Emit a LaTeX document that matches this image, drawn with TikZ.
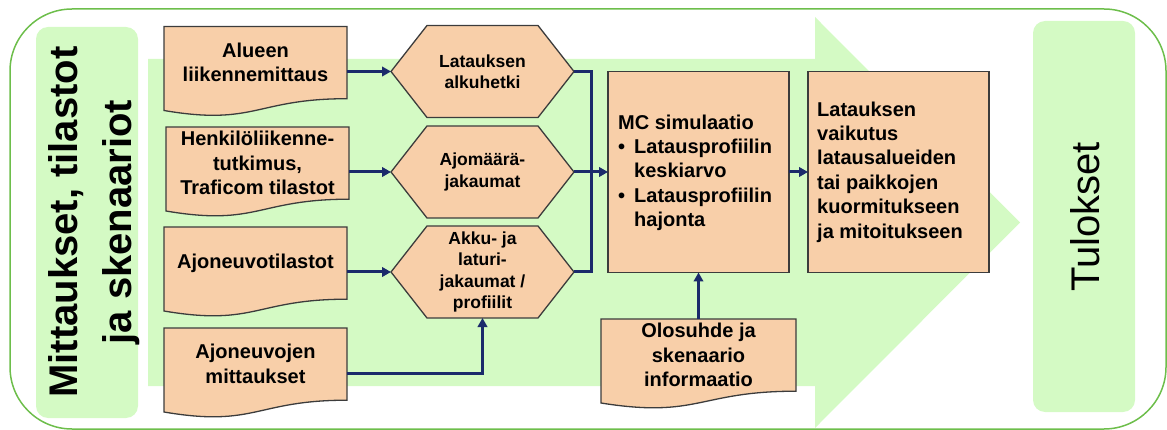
\documentclass[tikz,border=0pt]{standalone}
\usepackage{fontspec}
\setmainfont{Liberation Sans}
\usetikzlibrary{calc,arrows.meta}
\definecolor{peach}{HTML}{F8CFA9}
\definecolor{lgreen}{HTML}{D4FAC4}
\definecolor{ogreen}{HTML}{6DBE4B}
\definecolor{navy}{HTML}{1B2A6B}
\definecolor{edgegray}{HTML}{3C3C3C}
\newcommand\DocPath[1]{\path[shapefill] (#1.north west) -- (#1.north east) -- ($(#1.north east)+(0,72.2)$) .. controls ($(#1.north)+(0,72.2)$) and ($(#1.north)+(0,99.6)$) .. ($(#1.north west)+(0,84)$) -- cycle;}
\newcommand\HexPath[1]{\path[shapefill] (#1.west) -- ($(#1.north west)+(36,0)$) -- ($(#1.north east)+(-36,0)$) -- (#1.east) -- ($(#1.south east)+(-36,0)$) -- ($(#1.south west)+(36,0)$) -- cycle;}
\begin{document}
\begin{tikzpicture}[x=1pt,y=-1pt,
  frame/.style={inner sep=0pt, outer sep=0pt, draw=none},
  shapefill/.style={fill=peach, draw=edgegray, line width=1.3pt, line join=miter},
  boxnode/.style={frame, fill=peach, draw=edgegray, line width=1.3pt},
  doctxt/.style={inner sep=0pt, align=center, font=\bfseries\fontsize{20}{24.5}\selectfont},
  hextxt/.style={inner sep=0pt, align=center, font=\bfseries\fontsize{17.5}{21.5}\selectfont},
  lefttxt/.style={inner sep=0pt, align=left, anchor=west, font=\bfseries\fontsize{20}{24.4}\selectfont},
  conn/.style={draw=navy, line width=3pt},
  arr/.style={conn, -{Triangle[length=9pt,width=9.5pt]}}]
\useasboundingbox (0,0) rectangle (1167,430);
% background
\draw[ogreen, line width=1.5pt, rounded corners=62pt] (10,9) rectangle (1166,429);
\fill[lgreen, rounded corners=12pt] (36,27) rectangle (138,418);
\fill[lgreen, rounded corners=12pt] (1033,21) rectangle (1135,412);
\fill[lgreen] (148,59) -- (815,59) -- (815,17) -- (1020,222.5) -- (815,428) -- (815,386) -- (148,386) -- cycle;
\node[inner sep=0pt, align=center, rotate=90, font=\bfseries\fontsize{40}{54}\selectfont] (ltitle) at (94,222) {Mittaukset, tilastot\\ja skenaariot};
\node[inner sep=0pt, rotate=90, font=\fontsize{40}{48}\selectfont] (rtitle) at (1085,217) {Tulokset};
% frames
\node[frame, minimum width=183pt, minimum height=90pt] (d1) at (255.5,71.5) {};
\node[frame, minimum width=183pt, minimum height=90pt] (d2) at (257.5,172) {};
\node[frame, minimum width=183pt, minimum height=90pt] (d3) at (255.5,272) {};
\node[frame, minimum width=183pt, minimum height=90pt] (d4) at (255.5,373) {};
\node[frame, minimum width=195pt, minimum height=90pt] (d5) at (698.5,364) {};
\node[frame, minimum width=183pt, minimum height=92pt] (h1) at (482.5,71.5) {};
\node[frame, minimum width=183pt, minimum height=92pt] (h2) at (482.5,172) {};
\node[frame, minimum width=183pt, minimum height=92pt] (h3) at (482.5,272) {};
\node[boxnode, minimum width=181pt, minimum height=201pt] (mc) at (698.5,172) {};
\node[boxnode, minimum width=181pt, minimum height=201pt] (res) at (898.5,172) {};
\DocPath{d1}\DocPath{d2}\DocPath{d3}\DocPath{d4}\DocPath{d5}
\HexPath{h1}\HexPath{h2}\HexPath{h3}
% texts
\node[doctxt] (d1t) at ($(d1.north)+(0,36)$) {Alueen\\liikennemittaus};
\node[doctxt] (d2t) at ($(d2.north)+(0,36)$) {Henkilöliikenne-\\tutkimus,\\Traficom tilastot};
\node[doctxt] (d3t) at ($(d3.north)+(0,36)$) {Ajoneuvotilastot};
\node[doctxt] (d4t) at ($(d4.north)+(0,36)$) {Ajoneuvojen\\mittaukset};
\node[doctxt] (d5t) at ($(d5.north)+(0,36)$) {Olosuhde ja\\skenaario\\informaatio};
\node[hextxt] (h1t) at (h1) {Latauksen\\alkuhetki};
\node[hextxt] (h2t) at (h2) {Ajomäärä-\\jakaumat};
\node[hextxt] (h3t) at (h3) {Akku- ja\\laturi-\\jakaumat /\\profiilit};
\node[lefttxt] (mct) at ($(mc.west)+(10,1)$) {\begin{tabular}{@{}l@{\hspace{9pt}}l@{}}\multicolumn{2}{@{}l}{MC simulaatio}\\ •&Latausprofiilin\\ &keskiarvo\\ •&Latausprofiilin\\ &hajonta\end{tabular}};
\node[lefttxt] (rest) at ($(res.west)+(9,0)$) {Latauksen\\vaikutus\\latausalueiden\\tai paikkojen\\kuormitukseen\\ja mitoitukseen};
% connectors
\coordinate (jn) at (591,172);
\draw[arr] (d1.east) -- (h1.west);
\draw[arr] (d2.east) -- (h2.west);
\draw[arr] (d3.east) -- (h3.west);
\draw[arr] (d4.east) -| (h3.south);
\draw[conn] (h1.east) -| (jn);
\draw[conn] (h3.east) -| (jn);
\draw[arr] (h2.east) -- (mc.west);
\draw[arr] (d5.north) -- (mc.south);
\draw[arr] (mc.east) -- (res.west);
\end{tikzpicture}
\end{document}
